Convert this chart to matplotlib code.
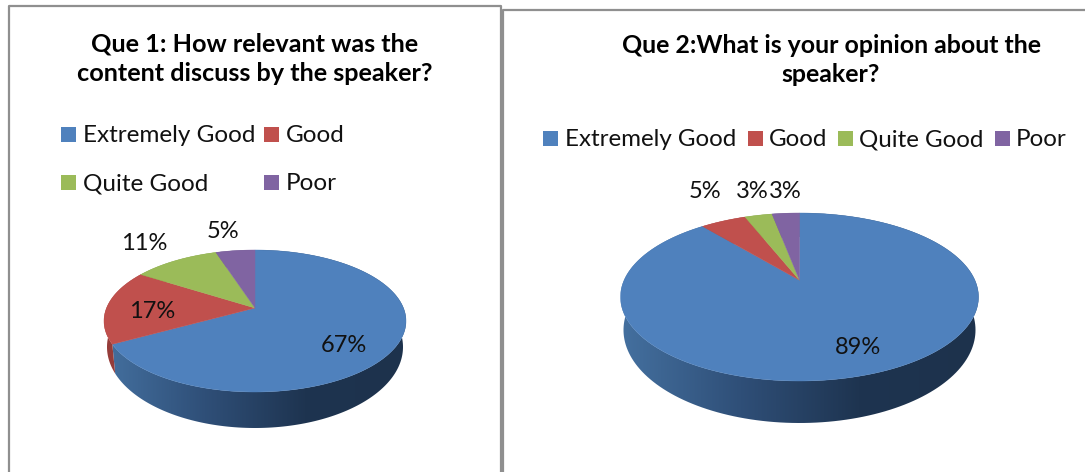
import numpy as np
import matplotlib
matplotlib.use('Agg')
import matplotlib.pyplot as plt
from matplotlib.colors import LinearSegmentedColormap
from matplotlib.patches import Polygon, Rectangle

categories = ['Extremely Good', 'Good', 'Quite Good', 'Poor']
q1_values = [67, 17, 11, 5]
q2_values = [89, 5, 3, 3]
q1_title = 'Que 1: How relevant was the\ncontent discuss by the speaker?'
q2_title = 'Que 2:What is your opinion about the\nspeaker?'

colors = ['#4F81BD', '#C0504D', '#9BBB59', '#8064A2']
side_colors = ['#2f4c72', '#953c39', '#76903f', '#5f4a7c']
side_cmap = LinearSegmentedColormap.from_list('side', ['#44709f', '#2f4f78', '#1e3450', '#1d324c'])

plt.rcParams['font.family'] = ['Lato', 'DejaVu Sans']


def project(t, cx, cy, rx, ry, k):
    # circle seen in perspective, so the apex sits above the middle of the ellipse
    u, v = np.sin(t), np.cos(t)
    den = 1 + k * v
    return cx + rx * u * np.sqrt(1 - k ** 2) / den, cy - ry * (v + k) / den


def draw_pie(ax, values, top, bottom, k):
    edges = np.cumsum([0] + list(values)) / sum(values) * 2 * np.pi
    for i in range(len(values)):
        t = np.linspace(edges[i], edges[i + 1], 200)
        x1, y1 = project(t, *top, k)
        x2, y2 = project(t, *bottom, k)
        side = Polygon(np.column_stack([np.r_[x1, x2[::-1]], np.r_[y1, y2[::-1]]]),
                       facecolor=side_colors[i], edgecolor='none', zorder=1)
        ax.add_patch(side)
        if i == 0:
            side.set_visible(False)
            grad = np.linspace(0, 1, 256).reshape(1, -1)
            im = ax.imshow(grad, cmap=side_cmap, aspect='auto', zorder=1,
                           extent=[top[0] - top[2], top[0] + top[2], top[1] + 200, top[1] - 200])
            im.set_clip_path(side)
    apex_y = top[1] - top[3] * k
    for i in range(len(values)):
        t = np.linspace(edges[i], edges[i + 1], 200)
        x1, y1 = project(t, *top, k)
        ax.fill(np.r_[top[0], x1], np.r_[apex_y, y1], color=colors[i], lw=0.3, zorder=2)


def draw_legend(ax, entries, size):
    for i, (x, y, tx) in enumerate(entries):
        ax.add_patch(Rectangle((x, y - 7.5), 15, 15, facecolor=colors[i], edgecolor='none'))
        ax.text(tx, y + 1.5, categories[i], fontsize=size, va='center', ha='left', color='#111111')


fig = plt.figure(figsize=(10.85, 4.72), dpi=100)
ax = fig.add_axes([0, 0, 1, 1])
ax.axis('off')

draw_pie(ax, q1_values, (255, 321, 151, 71), (255, 347, 148, 81), 0.183)
draw_pie(ax, q2_values, (799.5, 297, 179, 84), (799.5, 330, 176, 93), 0.2)

ax.set_xlim(0, 1085)
ax.set_ylim(472, 0)

# panel frames
frame = '#8f8f8f'
ax.plot([9, 9, 501, 501], [472, 5.5, 5.5, 472], color=frame, lw=1.6, zorder=5)
ax.plot([503, 503, 1085], [472, 9.5, 9.5], color=frame, lw=1.6, zorder=5)

ax.text(255, 59, q1_title, fontsize=18.2, fontweight='bold', ha='center', va='center',
        linespacing=1.33, color='black')
ax.text(831, 60, q2_title, fontsize=17.9, fontweight='bold', ha='center', va='center',
        linespacing=1.33, color='black')

draw_legend(ax, [(61, 134, 83), (264, 134, 286), (61, 182, 83), (264, 182, 286)], 17.5)
draw_legend(ax, [(543, 138, 565), (748, 138, 769), (838, 138, 859), (995, 138, 1016)], 17.4)

q1_label_pos = [(344, 346), (152, 312), (144, 244), (223, 232)]
q2_label_pos = [(858, 348), (705, 192), (752, 192), (785, 192)]
for vals, pos in [(q1_values, q1_label_pos), (q2_values, q2_label_pos)]:
    for v, (x, y) in zip(vals, pos):
        ax.text(x, y, f'{v}%', fontsize=17, ha='center', va='center', color='#111111', zorder=6)

fig.savefig('out.png', dpi=100)
